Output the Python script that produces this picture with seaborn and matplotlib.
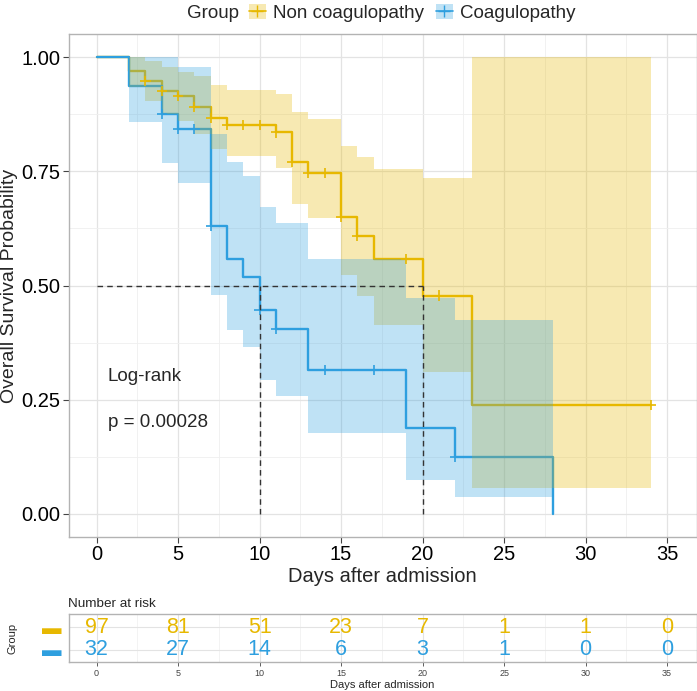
import numpy as np
import pandas as pd
import seaborn as sns
import matplotlib.pyplot as plt
from matplotlib.patches import Patch
from matplotlib.lines import Line2D

# --- data ---
groups = ['Non coagulopathy', 'Coagulopathy']
colors = ['#E7B800', '#2E9FDF']

non_time = [0, 2, 3, 4, 5, 6, 7, 8, 11, 12, 13, 15, 16, 17, 20, 23, 34]
non_surv = [1.0, 0.969, 0.947, 0.926, 0.915, 0.891, 0.866, 0.851, 0.835, 0.771, 0.747,
            0.651, 0.609, 0.558, 0.478, 0.239, 0.239]
non_upper = [1.0, 1.0, 0.992, 0.979, 0.968, 0.958, 0.939, 0.929, 0.919, 0.880, 0.864,
             0.805, 0.782, 0.755, 0.735, 1.0, 1.0]
non_lower = [1.0, 0.935, 0.905, 0.876, 0.860, 0.832, 0.798, 0.783, 0.758, 0.678, 0.648,
             0.523, 0.476, 0.414, 0.311, 0.056, 0.056]
non_censor = [3, 4, 5, 6, 7, 8, 9, 10, 11, 12, 13, 14, 15, 16, 19, 21, 34]

coag_time = [0, 2, 4, 5, 7, 8, 9, 10, 11, 13, 19, 22, 28]
coag_surv = [1.0, 0.9375, 0.875, 0.842, 0.630, 0.558, 0.519, 0.446, 0.405, 0.315,
             0.189, 0.125, 0.0]
coag_upper = [1.0, 1.0, 1.0, 0.979, 0.831, 0.771, 0.740, 0.672, 0.637, 0.558, 0.473,
              0.425, 0.425]
coag_lower = [1.0, 0.858, 0.768, 0.725, 0.479, 0.403, 0.366, 0.293, 0.258, 0.178,
              0.075, 0.037, 0.037]
coag_censor = [4, 5, 6, 7, 10, 11, 14, 17, 22]

risk_times = [0, 5, 10, 15, 20, 25, 30, 35]
risk_non = [97, 81, 51, 23, 7, 1, 1, 0]
risk_coag = [32, 27, 14, 6, 3, 1, 0, 0]

pval_text = 'p = 0.00028'

# --- frames ---
curves = pd.concat([
    pd.DataFrame({'time': non_time, 'surv': non_surv, 'Group': groups[0]}),
    pd.DataFrame({'time': coag_time, 'surv': coag_surv, 'Group': groups[1]}),
], ignore_index=True)


def step_value(times, surv, t):
    i = np.searchsorted(times, t, side='right') - 1
    return surv[i]


cens = pd.concat([
    pd.DataFrame({'time': non_censor,
                  'surv': [step_value(non_time, non_surv, t) for t in non_censor],
                  'Group': groups[0]}),
    pd.DataFrame({'time': coag_censor,
                  'surv': [step_value(coag_time, coag_surv, t) for t in coag_censor],
                  'Group': groups[1]}),
], ignore_index=True)

sns.set_theme(style='white')
plt.rcParams['font.family'] = ['Liberation Sans', 'DejaVu Sans']

palette = dict(zip(groups, colors))
W, H = 697, 691
fig = plt.figure(figsize=(W / 100, H / 100), dpi=100)
ax = fig.add_axes([68.5 / W, 1 - 536.7 / H, 628 / W, 502.4 / H])
tab = fig.add_axes([68.5 / W, 1 - 662.3 / H, 628 / W, 48.3 / H])

xlim = (-1.72, 36.8)

# survival curves
sns.lineplot(data=curves, x='time', y='surv', hue='Group', palette=palette,
             drawstyle='steps-post', estimator=None, sort=False, linewidth=1.7,
             legend=False, ax=ax, zorder=3)

# confidence bands
ax.fill_between(non_time, non_lower, non_upper, step='post', color=colors[0],
                alpha=0.3, linewidth=0, zorder=4)
ax.fill_between(coag_time, coag_lower, coag_upper, step='post', color=colors[1],
                alpha=0.3, linewidth=0, zorder=4)

# censor marks
sns.scatterplot(data=cens, x='time', y='surv', hue='Group', palette=palette,
                marker='+', s=55, linewidth=1.2, legend=False, ax=ax, zorder=5)

# median lines
medians = []
for t, s in [(non_time, non_surv), (coag_time, coag_surv)]:
    idx = np.argmax(np.array(s) <= 0.5)
    medians.append(t[idx])
ax.plot([0, max(medians)], [0.5, 0.5], color='#333333', ls=(0, (4, 3)), lw=1, zorder=6)
for m in medians:
    ax.plot([m, m], [0, 0.5], color='#333333', ls=(0, (4, 3)), lw=1, zorder=6)

ax.text(0.7, 0.30, 'Log-rank', fontsize=13.5, va='center', ha='left')
ax.text(0.7, 0.20, pval_text, fontsize=13.5, va='center', ha='left')

ax.set_xlim(*xlim)
ax.set_ylim(-0.05, 1.05)
ax.set_xticks(range(0, 36, 5))
ax.set_xticks(np.arange(2.5, 36, 5), minor=True)
ax.set_yticks([0, 0.25, 0.5, 0.75, 1.0])
ax.set_yticks([0.125, 0.375, 0.625, 0.875], minor=True)
ax.set_yticklabels(['0.00', '0.25', '0.50', '0.75', '1.00'])
ax.grid(True, which='major', color='#E3E3E3', lw=0.9)
ax.grid(True, which='minor', color='#EFEFEF', lw=0.6)
ax.set_axisbelow(True)
for sp in ax.spines.values():
    sp.set_color('#B3B3B3')
    sp.set_linewidth(1)
ax.tick_params(axis='both', which='major', labelsize=14.5, length=4, width=0.8,
               color='#444444', labelcolor='black', bottom=True, left=True, pad=2)
ax.tick_params(which='minor', length=0)
ax.set_xlabel('Days after admission', fontsize=14.5, labelpad=2)
ax.set_ylabel('Overall Survival Probability', fontsize=14)
ax.yaxis.set_label_coords(-0.081, 0.5)

# legend
handles = [(Patch(facecolor=c, alpha=0.3, edgecolor='none'),
            Line2D([], [], color=c, marker='+', markersize=8, lw=1.2))
           for c in colors]
fig.text(187 / W, 1 - 13 / H, 'Group', fontsize=13.5, va='center', ha='left')
fig.legend(handles, groups, loc='center left', bbox_to_anchor=(249 / W, 1 - 13 / H),
           ncol=2, frameon=False, fontsize=13.5, handlelength=0.9, handleheight=0.9,
           handletextpad=0.4, columnspacing=0.6, borderpad=0, borderaxespad=0)

# risk table
for y, vals, c in [(2, risk_non, colors[0]), (1, risk_coag, colors[1])]:
    for t, v in zip(risk_times, vals):
        tab.text(t, y, str(v), color=c, fontsize=15.5, ha='center', va='center')
tab.set_xlim(*xlim)
tab.set_ylim(0.45, 2.6)
tab.set_xticks(risk_times)
tab.set_xticks(np.arange(2.5, 36, 5), minor=True)
tab.set_yticks([1, 2])
tab.set_yticklabels(['\u25ac', '\u25ac'], fontsize=14)
for lab, c in zip(tab.get_yticklabels(), [colors[1], colors[0]]):
    lab.set_color(c)
tab.grid(True, which='major', color='#E3E3E3', lw=0.8)
tab.grid(True, which='minor', axis='x', color='#EFEFEF', lw=0.5)
for sp in tab.spines.values():
    sp.set_color('#B3B3B3')
    sp.set_linewidth(1)
tab.tick_params(axis='x', which='major', labelsize=6.5, length=3, width=0.6,
                color='#444444', labelcolor='#444444', bottom=True, pad=2)
tab.tick_params(axis='y', length=0, pad=5)
tab.tick_params(which='minor', length=0)
tab.set_xlabel('Days after admission', fontsize=8, labelpad=1)
tab.set_ylabel('Group', fontsize=8)
tab.yaxis.set_label_coords(-0.081, 0.5)
tab.set_title('Number at risk', fontsize=9.7, loc='left', pad=5)

fig.savefig('out.png', dpi=100)
